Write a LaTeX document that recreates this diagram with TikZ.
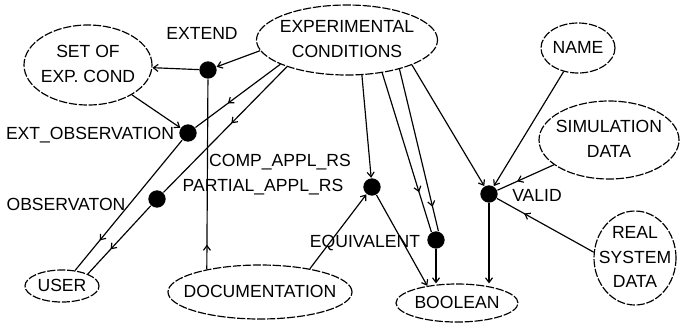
\documentclass[tikz,border=0pt]{standalone}
\usepackage{fontspec}
\setmainfont{Liberation Sans}
\usetikzlibrary{shapes.geometric,arrows.meta,decorations.markings}
% centred text that does not size its ellipse
\newcommand{\etxt}[1]{\raisebox{-0.25em}[0pt][0pt]{\makebox[0pt]{\begin{tabular}{@{}c@{}}#1\end{tabular}}}}

\begin{document}
\begin{tikzpicture}[x=0.03cm,y=-0.03cm,line width=1pt,
  >={Straight Barb[length=4pt,width=6pt]},
  font=\fontsize{15}{21}\selectfont,
  ent/.style={shape=ellipse,draw,inner sep=0pt,dash pattern=on 7pt off 1.5pt},
  rel/.style={shape=circle,fill,inner sep=0pt,minimum size=0.52cm},
  lbl/.style={inner sep=0pt},
  midarr/.style={postaction={decorate},decoration={markings,mark=at position #1 with {\arrow{>}}}}]
\useasboundingbox (0,0) rectangle (682,323);
% entities
\path (347,40) node (ec) [ent,minimum width=5.43cm,minimum height=2.1cm] {\etxt{EXPERIMENTAL\\CONDITIONS}};
\path (88,65) node (set) [ent,minimum width=3.84cm,minimum height=2.4cm] {\etxt{SET OF\\EXP. COND}};
\path (578,48) node (name) [ent,minimum width=2.22cm,minimum height=1.5cm] {\etxt{NAME}};
\path (609,140) node (sim) [ent,minimum width=4.2cm,minimum height=2.34cm] {\etxt{SIMULATION\\DATA}};
\path (635,258) node (rsd) [ent,minimum width=2.46cm,minimum height=2.82cm] {\etxt{REAL\\SYSTEM\\DATA}};
\path (457,303) node (bool) [ent,minimum width=3.66cm,minimum height=1.14cm] {\etxt{BOOLEAN}};
\path (260,292) node (doc) [ent,minimum width=5.52cm,minimum height=1.62cm] {\etxt{DOCUMENTATION}};
\path (62,286) node (user) [ent,minimum width=2.22cm,minimum height=0.96cm] {\etxt{USER}};
% relations
\path (208,70) node (ext) [rel] {};
\path (188,133) node (extobs) [rel] {};
\path (157,199) node (obs) [rel] {};
\path (372,187) node (comp) [rel] {};
\path (436,240) node (eqv) [rel] {};
\path (489,194) node (valid) [rel] {};
\path (202,33) node (extlbl) [lbl] {EXTEND};
\path (90,135) node (extobslbl) [lbl] {EXT\_OBSERVATION};
\path (66,204) node (obslbl) [lbl] {OBSERVATON};
\path (280,162) node (complbl) [lbl] {COMP\_APPL\_RS};
\path (263,187) node (partlbl) [lbl] {PARTIAL\_APPL\_RS};
\path (365,243) node (eqvlbl) [lbl] {EQUIVALENT};
\path (537,195) node (validlbl) [lbl] {VALID};

\draw [->] (ec.187) to (ext);
\draw [->] (ext) to (set);
\draw [midarr=0.13] (doc.157) to (ext);
\draw [->] (set) to (extobs);
\draw [midarr=0.62] (ec.200) to (extobs);
\draw [midarr=0.45] (ec.204) to (obs);
\draw [midarr=0.77] (extobs) to (user.50);
\draw [midarr=0.64] (obs) to (user.25);
\draw [->] (ec.-67) to (comp);
\draw [->] (doc.25) to (comp);
\draw [->] (comp) to (bool.150);
\draw [midarr=0.75] (ec.-43) to (eqv.120);
\draw [midarr=0.85] (ec.-29) to (eqv.75);
\draw [->] (eqv) to (eqv |- bool.north);
\draw [->] (ec.-21) to (valid);
\draw [->] (name) to (valid);
\draw [midarr=0.65] (sim) to (valid);
\draw [midarr=0.72] (rsd.172) to (valid);
\draw [->] (valid) to (valid |- bool.north);
\end{tikzpicture}
\end{document}
